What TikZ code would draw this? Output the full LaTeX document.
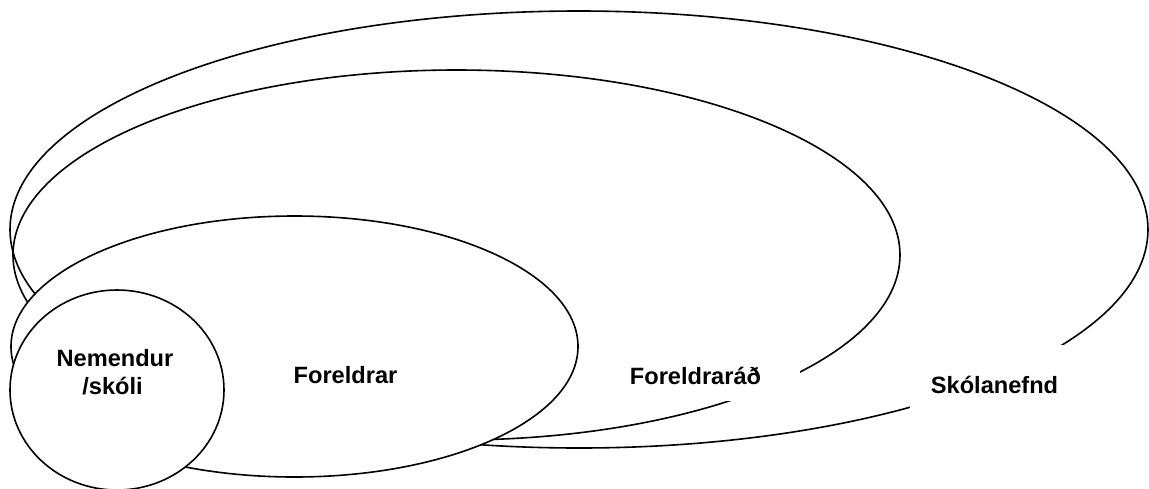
\documentclass[tikz,border=0pt]{standalone}
\usepackage{fontspec}
\setmainfont{Liberation Sans}
\tikzset{
  ring/.style={draw=black, line width=1.6pt},
  ringfill/.style={draw=black, fill=white, line width=1.6pt},
  lbl/.style={font=\fontsize{23.6}{28}\selectfont\bfseries, inner sep=0pt, anchor=base, align=center},
  cover/.style={fill=white, draw=none}
}
\begin{document}
\begin{tikzpicture}[x=1pt, y=-1pt]
\useasboundingbox (0,0) rectangle (1149,488);
\clip (0,0) rectangle (1149,488);
% ellipses
\draw[ring] (579,229.5) ellipse [x radius=569, y radius=218.5];
\draw[ring] (456.5,255) ellipse [x radius=443.5, y radius=185];
\draw[ringfill] (294.5,346.5) ellipse [x radius=283.5, y radius=130.5];
\draw[ringfill] (117,390) ellipse [x radius=107, y radius=100];
% white text boxes
\fill[cover] (591,349) rectangle (800,401);
\fill[cover] (910,345) rectangle (1079,425);
% labels
\node[lbl] (fr) at (695.5,384) {Foreldraráð};
\node[lbl] (sk) at (994.5,393) {Skólanefnd};
\node[lbl] (fo) at (345.5,383) {Foreldrar};
\node[lbl] (ne) at (115,366) {Nemendur};
\node[lbl] (ns) at (112.5,394) {/skóli};
\end{tikzpicture}
\end{document}
